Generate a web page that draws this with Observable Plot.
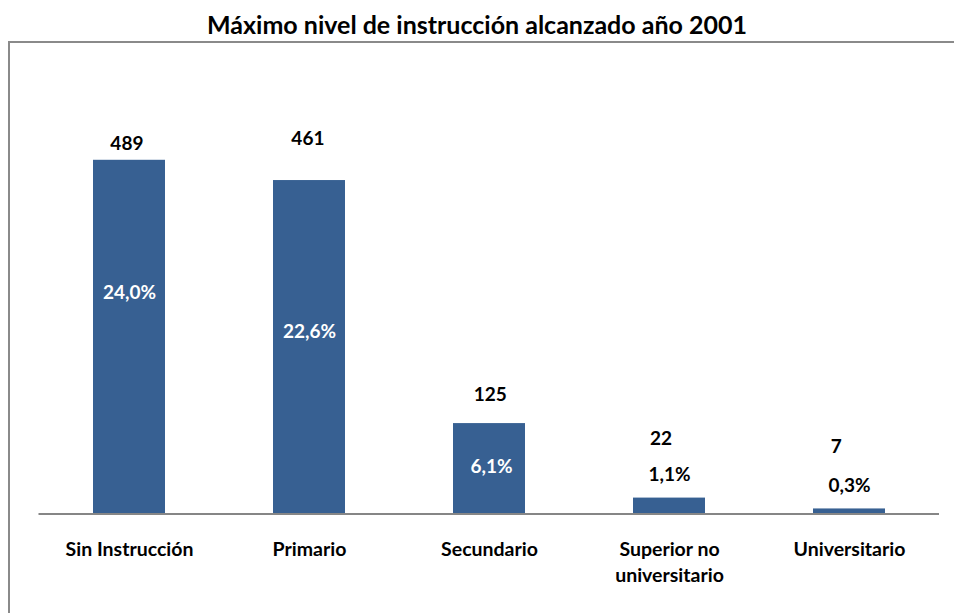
<!DOCTYPE html>
<html>
<head>
<meta charset="utf-8">
<script src="https://cdn.jsdelivr.net/npm/d3@7"></script>
<script src="https://cdn.jsdelivr.net/npm/@observablehq/plot@0.6"></script>
<style>
  html, body { margin: 0; padding: 0; background: #fff; }
  body { width: 954px; height: 613px; position: relative; overflow: hidden; font-family: Lato, "Open Sans", sans-serif; }
  #title { position: absolute; left: 0; top: 0; width: 954px; height: 40px; text-align: center;
           font: bold 25px Lato, sans-serif; line-height: 25px; padding-top: 12px; box-sizing: border-box; color: #000; }
  #chart { position: absolute; left: 0; top: 42px; }
  .bl { position: absolute; left: 8px; top: 42px; width: 2px; height: 571px; background: #8a8a8a; }
  .bt { position: absolute; left: 8px; top: 41px; width: 946px; height: 2px; background: #8a8a8a; }
</style>
</head>
<body>
<div id="title">Máximo nivel de instrucción alcanzado año 2001</div>
<div class="bl"></div>
<div class="bt"></div>
<div id="chart"></div>
<script>
// Data
const categories = ["Sin Instrucción", "Primario", "Secundario", "Superior no\nuniversitario", "Universitario"];
const counts = [489, 461, 125, 22, 7];
const percents = [24.0, 22.6, 6.1, 1.1, 0.3];

// Label placement tweaks (pixels), mirroring the original chart's label layout
const countDx = [-2.6, -1.6, 0.8, -8.6, -13.2];
const countDy = [-16.7, -42, -29, -59.4, -62.3];
const pctDx = [0, 0, 2, 0, 0];
const pctDy = [132.7, 151.4, 43.4, -23.4, -23.3];
const pctInside = [true, true, true, false, false];

const table = categories.map((c, i) => ({
  cat: c, count: counts[i], pct: percents[i],
  cdx: countDx[i], cdy: countDy[i], pdx: pctDx[i], pdy: pctDy[i], inside: pctInside[i]
}));

const fmtPct = v => v.toFixed(1).replace(".", ",") + "%";

const W = 954, H = 571;
const marks = [
  Plot.barY(table, {x: "cat", y: "count", fill: "#376092"}),
  Plot.ruleY([0], {stroke: "#868686", strokeWidth: 2}),
  Plot.text(categories, {x: d => d, frameAnchor: "bottom", lineAnchor: "top", dy: 24,
    fontSize: 19.5, fontWeight: "bold", fill: "#000", lineHeight: 1.33})
];
table.forEach(d => {
  marks.push(Plot.text([d], {x: "cat", y: "count", text: r => String(r.count), dx: d.cdx, dy: d.cdy,
    fontSize: 19, fontWeight: "bold", fill: "#000"}));
  marks.push(Plot.text([d], {x: "cat", y: "count", text: r => fmtPct(r.pct), dx: d.pdx, dy: d.pdy,
    fontSize: 19, fontWeight: "bold", fill: d.inside ? "#ffffff" : "#000"}));
});

const chart = Plot.plot({
  width: W, height: H,
  marginLeft: 38.5, marginRight: 15, marginTop: 37.5, marginBottom: 99.5,
  style: {fontFamily: "Lato, sans-serif", background: "transparent"},
  x: {domain: categories, paddingInner: 0.6, paddingOuter: 0.3, axis: null},
  y: {domain: [0, 600], axis: null},
  marks
});
document.getElementById("chart").appendChild(chart);
</script>
</body>
</html>
